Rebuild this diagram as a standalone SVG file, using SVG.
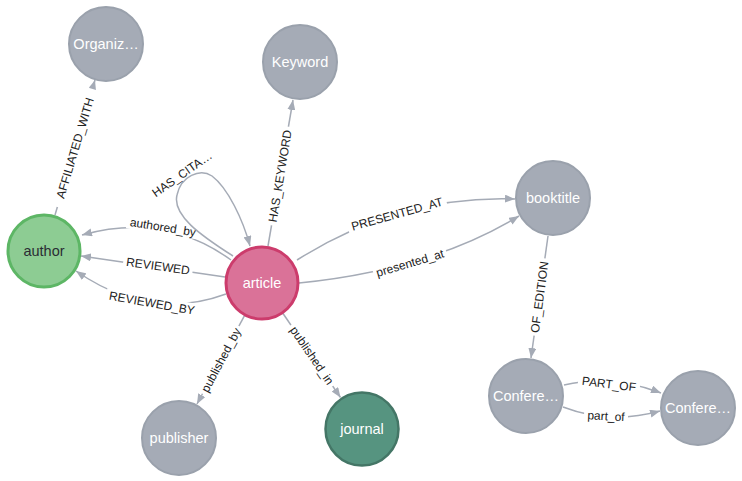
<svg xmlns="http://www.w3.org/2000/svg" width="742" height="481" viewBox="0 0 742 481">
<style>
.edge{fill:none;stroke:#A5ABB6;stroke-width:1.5}
.el{font-family:"Liberation Sans",Arial,sans-serif;font-size:12px;fill:#222;text-anchor:middle}
.bg{fill:#fff}
.nl{font-family:"Liberation Sans",Arial,sans-serif;font-size:14.5px;fill:#fff;text-anchor:middle}
.gray{fill:#A5ABB6;stroke:#9AA1AC;stroke-width:2}
</style>
<defs>
<marker id="arr" viewBox="0 0 10 8" refX="10" refY="4" markerWidth="10" markerHeight="8" markerUnits="userSpaceOnUse" orient="auto"><path d="M0,0 L10,4 L0,8 z" fill="#A5ABB6"/></marker>
</defs>
<g id="connectors">
<path class="edge" marker-end="url(#arr)" d="M 231 260 Q 165 212 82 235"/>
<g transform="translate(163,227) rotate(9)"><rect class="bg" x="-36.5" y="-7" width="73" height="14"/><text class="el" dy="0.35em">authored_by</text></g>
<path class="edge" marker-end="url(#arr)" d="M 225 277 L 81 256"/>
<g transform="translate(158,266) rotate(8)"><rect class="bg" x="-35" y="-7" width="70" height="14"/><text class="el" dy="0.35em">REVIEWED</text></g>
<path class="edge" marker-end="url(#arr)" d="M 226 294 Q 150 322 76 271"/>
<g transform="translate(152,303) rotate(10)"><rect class="bg" x="-46.5" y="-7" width="93" height="14"/><text class="el" dy="0.35em">REVIEWED_BY</text></g>
<path class="edge" marker-end="url(#arr)" d="M 55 215 L 95 80"/>
<g transform="translate(75,148) rotate(-73.3)"><rect class="bg" x="-61.5" y="-7" width="123" height="14"/><text class="el" dy="0.35em">AFFILIATED_WITH</text></g>
<path class="edge" marker-end="url(#arr)" d="M 233 256 C 200 235, 172 215, 177 195 C 181 176, 200 168, 212 176 C 228 188, 243 220, 250 246"/>
<g transform="translate(182,174) rotate(-35)"><text class="el" dy="0.35em">HAS_CITA…</text></g>
<path class="edge" marker-end="url(#arr)" d="M 268 246 L 293 100"/>
<g transform="translate(280,176) rotate(-80.6)"><rect class="bg" x="-50" y="-7" width="100" height="14"/><text class="el" dy="0.35em">HAS_KEYWORD</text></g>
<path class="edge" marker-end="url(#arr)" d="M 297 260 Q 400 195 515 199"/>
<g transform="translate(397,214) rotate(-15.6)"><rect class="bg" x="-51" y="-7" width="102" height="14"/><text class="el" dy="0.35em">PRESENTED_AT</text></g>
<path class="edge" marker-end="url(#arr)" d="M 299 283 Q 430 270 519 216"/>
<g transform="translate(410,263) rotate(-16.5)"><rect class="bg" x="-38" y="-7" width="76" height="14"/><text class="el" dy="0.35em">presented_at</text></g>
<path class="edge" marker-end="url(#arr)" d="M 548 236 L 531 358"/>
<g transform="translate(539.5,297) rotate(-82.2)"><rect class="bg" x="-39" y="-7" width="78" height="14"/><text class="el" dy="0.35em">OF_EDITION</text></g>
<path class="edge" marker-end="url(#arr)" d="M 564 385 Q 612 374 661 393"/>
<g transform="translate(609,384) rotate(7)"><rect class="bg" x="-31" y="-7" width="62" height="14"/><text class="el" dy="0.35em">PART_OF</text></g>
<path class="edge" marker-end="url(#arr)" d="M 563 407 Q 610 425 660 411"/>
<g transform="translate(606,416) rotate(3)"><rect class="bg" x="-22" y="-7" width="44" height="14"/><text class="el" dy="0.35em">part_of</text></g>
<path class="edge" marker-end="url(#arr)" d="M 244.5 315.6 L 197 404"/>
<g transform="translate(221,360) rotate(-61.8)"><rect class="bg" x="-38.5" y="-7" width="77" height="14"/><text class="el" dy="0.35em">published_by</text></g>
<path class="edge" marker-end="url(#arr)" d="M 283 313.5 L 340.5 397.5"/>
<g transform="translate(312,355.5) rotate(55.6)"><rect class="bg" x="-37" y="-7" width="74" height="14"/><text class="el" dy="0.35em">published_in</text></g>
</g>
<g id="node-organization"><circle class="gray" cx="106" cy="44" r="37"/><text class="nl" x="106" y="44" dy="0.35em">Organiz…</text></g>
<g id="node-keyword"><circle class="gray" cx="300" cy="62" r="37"/><text class="nl" x="300" y="62" dy="0.35em">Keyword</text></g>
<g id="node-author"><circle cx="44" cy="251" r="36" fill="#8DCC93" stroke="#5DB665" stroke-width="3"/><text class="nl" x="44" y="251" dy="0.35em" style="fill:#2A2C34">author</text></g>
<g id="node-article"><circle cx="262" cy="283" r="36" fill="#DA7298" stroke="#CC3C6C" stroke-width="3"/><text class="nl" x="262" y="283" dy="0.35em">article</text></g>
<g id="node-booktitle"><circle class="gray" cx="553" cy="198" r="37"/><text class="nl" x="553" y="198" dy="0.35em">booktitle</text></g>
<g id="node-conference1"><circle class="gray" cx="526" cy="396" r="37"/><text class="nl" x="526" y="396" dy="0.35em">Confere…</text></g>
<g id="node-conference2"><circle class="gray" cx="698" cy="408" r="37"/><text class="nl" x="698" y="408" dy="0.35em">Confere…</text></g>
<g id="node-publisher"><circle class="gray" cx="179" cy="438" r="37"/><text class="nl" x="179" y="438" dy="0.35em">publisher</text></g>
<g id="node-journal"><circle cx="362" cy="429" r="36.5" fill="#569480" stroke="#447666" stroke-width="2.5"/><text class="nl" x="362" y="429" dy="0.35em">journal</text></g>
</svg>
